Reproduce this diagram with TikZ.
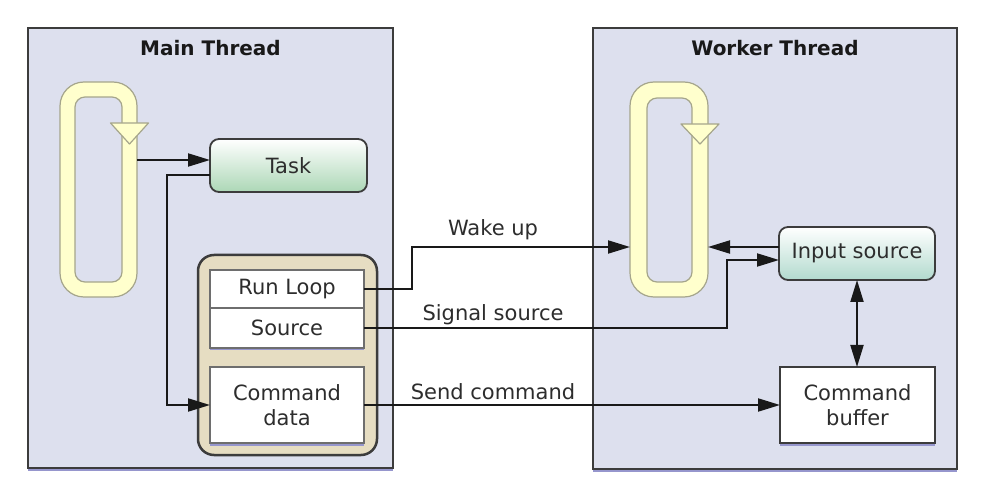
\documentclass[tikz,border=0pt]{standalone}
\usepackage{fontspec}
\setmainfont{DejaVu Sans}
\usetikzlibrary{arrows.meta,calc,shadows}
\definecolor{panelfill}{RGB}{221,224,238}
\definecolor{panelshadow}{RGB}{150,150,205}
\definecolor{loopfill}{RGB}{255,255,205}
\definecolor{loopedge}{RGB}{165,165,140}
\definecolor{tanfill}{RGB}{230,221,194}
\definecolor{taskgreen}{RGB}{172,215,182}
\definecolor{inputteal}{RGB}{178,218,206}
\definecolor{edgegray}{RGB}{60,60,60}
\definecolor{boxgray}{RGB}{110,110,110}
\definecolor{txt}{RGB}{45,45,45}
\definecolor{linecol}{RGB}{25,25,25}
\begin{document}
\begin{tikzpicture}[x=1pt,y=-1pt,
  every node/.style={text=txt, font=\fontsize{21}{25}\selectfont},
  boxbase/.style={rectangle, inner sep=0pt, outer sep=0pt, align=center},
  panelbox/.style={boxbase, draw=edgegray, line width=2.8pt, fill=panelfill,
    drop shadow={shadow xshift=0pt, shadow yshift=-2.5pt, fill=panelshadow, opacity=1}},
  titletext/.style={font=\bfseries\fontsize{20}{24}\selectfont, text=black!90},
  gradbox/.style={boxbase, draw=edgegray, line width=1.8pt, rounded corners=9pt, top color=white},
  whitebox/.style={boxbase, draw=boxgray, line width=1.5pt, fill=white},
  shadowed/.style={drop shadow={shadow xshift=0pt, shadow yshift=-2.5pt, fill=panelshadow, opacity=1}},
  ring/.style={draw=loopedge, line width=1.2pt, fill=loopfill, even odd rule},
  ringhead/.style={draw=loopedge, line width=1.2pt, fill=loopfill, line join=round},
  arr/.style={draw=linecol, line width=2pt, -{Triangle[length=22pt,width=13pt]}},
  dblarr/.style={draw=linecol, line width=2pt, {Triangle[length=22pt,width=13pt]}-{Triangle[length=22pt,width=13pt]}}
]
\useasboundingbox[fill=white] (0,0) rectangle (986,494);

% panels
\node[panelbox, minimum width=365pt, minimum height=440pt] (mainpanel) at (210.5,248) {};
\node[panelbox, minimum width=364pt, minimum height=441pt] (workerpanel) at (775,248.5) {};
\node[titletext] (maintitle) at (210.5,48) {Main Thread};
\node[titletext] (workertitle) at (775,48) {Worker Thread};

% run loop rings
\path[ring] [rounded corners=24pt] (60,82) rectangle (137,297) [rounded corners=10pt] (75,97) rectangle (122,282);
\path[ringhead] (110.5,123) -- (148.5,123) -- (129.5,144) -- cycle;
\path[ring] [rounded corners=24pt] (630,82) rectangle (708,297) [rounded corners=10pt] (647,98) rectangle (692,282);
\path[ringhead] (681,124) -- (719,124) -- (700,144) -- cycle;
\node[boxbase, minimum width=77pt, minimum height=215pt] (mainloop) at (98.5,189.5) {};
\node[boxbase, minimum width=78pt, minimum height=215pt] (workerloop) at (669,189.5) {};

% main thread boxes
\node[gradbox, bottom color=taskgreen, minimum width=157pt, minimum height=53pt] (task) at (288.5,165.5) {Task};
\node[boxbase, draw=edgegray, line width=2.5pt, rounded corners=16pt, fill=tanfill,
  minimum width=179pt, minimum height=200pt] (container) at (287.5,355) {};
\node[whitebox, shadowed, minimum width=154pt, minimum height=40pt] (source) at (287,328) {Source};
\node[whitebox, minimum width=154pt, minimum height=38pt] (runloop) at (287,289) {Run Loop};
\node[whitebox, shadowed, minimum width=154pt, minimum height=76pt] (cmddata) at (287,405) {Command\\data};

% worker thread boxes
\node[gradbox, bottom color=inputteal, minimum width=156pt, minimum height=53pt] (inputsrc) at (857,253.5) {Input source};
\node[whitebox, draw=edgegray, line width=1.8pt, shadowed, minimum width=155pt, minimum height=76pt] (cmdbuf) at (857.5,405) {Command\\buffer};

% connectors
\coordinate (t1) at ($(task.west)+(0,-5.5)$);
\draw[arr] (mainloop.east |- t1) -- (t1);
\draw[arr] ($(task.west)+(0,9.5)$) -- ++(-43,0) |- (cmddata.west);
\draw[arr] (runloop.east) -- ++(48,0) |- ($(workerloop.west)+(0,57.5)$);
\draw[arr] (source.east) -- ++(363,0) |- ($(inputsrc.west)+(0,6.5)$);
\coordinate (i1) at ($(inputsrc.west)+(0,-6.5)$);
\draw[arr] (i1) -- (workerloop.east |- i1);
\draw[arr] (cmddata.east) -- (cmdbuf.west);
\draw[dblarr] (inputsrc.south) -- (inputsrc.south |- cmdbuf.north);

% labels
\node (lwake) at (493,230) {Wake up};
\node (lsignal) at (493,315) {Signal source};
\node (lsend) at (493,392) {Send command};
\end{tikzpicture}
\end{document}
